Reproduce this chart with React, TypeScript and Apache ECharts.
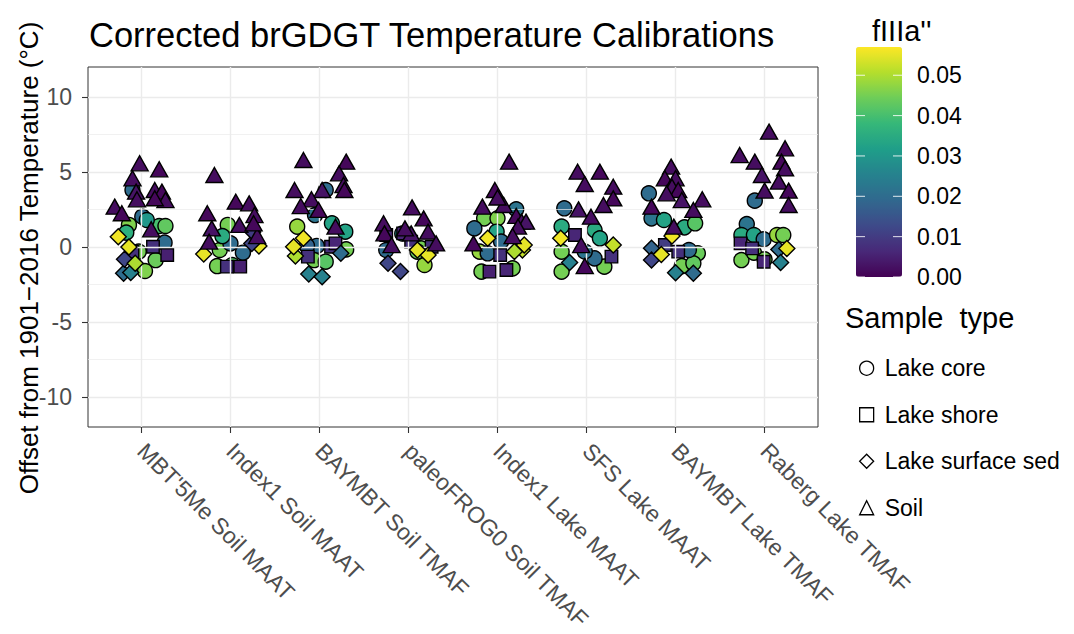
import React, { useEffect, useRef } from "react";
import * as echarts from "echarts";

const categories = [
  "MBT'5Me Soil MAAT",
  "Index1 Soil MAAT",
  "BAYMBT Soil TMAF",
  "paleoFROG0 Soil TMAF",
  "Index1 Lake MAAT",
  "SFS Lake MAAT",
  "BAYMBT Lake TMAF",
  "Raberg Lake TMAF",
];
const sampleTypes = ["Lake core", "Lake shore", "Lake surface sed", "Soil"];
const yTicks = [-10, -5, 0, 5, 10];
const yMinorTicks = [-7.5, -2.5, 2.5, 7.5];
const colorTicks = [0, 0.01, 0.02, 0.03, 0.04, 0.05];
const colorMin = 0;
const colorMax = 0.057;
const viridis = ["#440154", "#482878", "#3E4A89", "#31688E", "#26828E", "#1F9E89", "#35B779", "#6DCD59", "#B4DE2C", "#FDE725"];

// rows: [calibration index, jitter, offset from 1901-2016 temperature (°C), fIIIa'']
const lakeCore = [
  [0, 0.01, 2.02, 0.02], [0, -0.14, 1.47, 0.046], [0, -0.17, 0.96, 0.036], [0, 0.2, 1.4, 0.04], [0, 0.27, 1.4, 0.043],
  [0, 0.26, 0.29, 0.02], [0, -0.03, -0.31, 0.045], [0, 0.16, -0.87, 0.044], [0, 0.04, -1.6, 0.046], [0, -0.1, 3.8, 0.02], [0, 0.06, 1.8, 0.03],
  [1, -0.03, 1.47, 0.045], [1, -0.12, -0.2, 0.045], [1, 0.0, 0.24, 0.02], [1, 0.14, -0.38, 0.02], [1, -0.15, -1.27, 0.045], [1, 0.02, -1.2, 0.042], [1, -0.09, 0.73, 0.035],
  [2, 0.07, 3.8, 0.02], [2, -0.05, 2.13, 0.022], [2, -0.25, 1.36, 0.048], [2, 0.14, 1.58, 0.033], [2, 0.29, 1.02, 0.033],
  [2, -0.03, 0.07, 0.02], [2, -0.14, 0.07, 0.018], [2, 0.3, -0.16, 0.045], [2, -0.06, -0.87, 0.045], [2, 0.07, -0.98, 0.042],
  [3, 0.14, -0.09, 0.045], [3, 0.18, -1.2, 0.048], [3, 0.1, -0.31, 0.044], [3, -0.25, -0.2, 0.02], [3, -0.07, 0.9, 0.03],
  [4, -0.15, 1.91, 0.045], [4, 0.0, 1.91, 0.046], [4, -0.26, 1.24, 0.02], [4, -0.01, 1.02, 0.033], [4, 0.21, 2.51, 0.022],
  [4, -0.2, -0.31, 0.048], [4, -0.18, -1.64, 0.045], [4, 0.17, -1.42, 0.045], [4, 0.04, 0.36, 0.02], [4, -0.11, -0.42, 0.02],
  [5, -0.25, 2.58, 0.02], [5, -0.28, 1.36, 0.035], [5, 0.09, 1.13, 0.035], [5, 0.15, 0.58, 0.033], [5, -0.28, -0.31, 0.045],
  [5, -0.28, -1.64, 0.045], [5, 0.2, -1.31, 0.045], [5, 0.09, -0.76, 0.02], [5, -0.02, -0.3, 0.022],
  [6, -0.3, 3.58, 0.02], [6, -0.27, 1.91, 0.022], [6, -0.13, 1.8, 0.033], [6, 0.1, 1.31, 0.035], [6, 0.22, 1.58, 0.042],
  [6, 0.25, -0.42, 0.044], [6, 0.07, -1.27, 0.045], [6, 0.2, -1.09, 0.043], [6, 0.15, -0.2, 0.02],
  [7, -0.11, 3.09, 0.02], [7, -0.2, 1.53, 0.022], [7, -0.26, 0.8, 0.035], [7, -0.12, 0.8, 0.033], [7, -0.01, 0.51, 0.02],
  [7, 0.14, 0.8, 0.048], [7, 0.21, 0.8, 0.045], [7, -0.26, -0.87, 0.045], [7, -0.12, -0.38, 0.045], [7, 0.0, -0.82, 0.045],
];
const lakeShore = [
  [0, 0.13, 0.02, 0.008], [0, 0.29, -0.53, 0.005], [0, -0.1, -0.31, 0.008],
  [1, 0.11, -1.31, 0.005], [1, -0.04, -1.31, 0.008],
  [2, 0.13, 0.02, 0.008], [2, -0.13, -0.64, 0.008], [2, 0.18, 0.24, 0.006],
  [3, -0.25, 0.8, 0.006], [3, 0.03, 0.36, 0.008], [3, -0.06, 0.91, 0.006], [3, 0.26, 0.02, 0.008],
  [4, 0.03, -0.53, 0.008], [4, -0.09, -1.64, 0.005], [4, 0.1, -1.53, 0.006],
  [5, -0.13, 0.8, 0.006], [5, 0.28, -0.64, 0.008],
  [6, -0.12, 0.13, 0.01], [6, 0.03, -0.31, 0.008],
  [7, -0.27, 0.24, 0.006], [7, -0.14, -0.09, 0.008], [7, -0.01, -0.98, 0.006],
];
const lakeSurfaceSed = [
  [0, -0.26, 0.69, 0.056], [0, -0.2, -1.75, 0.02], [0, -0.12, -1.7, 0.025], [0, -0.19, -0.82, 0.012], [0, -0.07, -1.09, 0.05], [0, -0.14, 0.0, 0.055],
  [1, -0.3, -0.47, 0.055], [1, 0.32, 0.07, 0.055], [1, 0.24, 0.24, 0.012], [1, 0.25, 1.0, 0.01],
  [2, -0.27, -0.6, 0.05], [2, -0.18, 0.58, 0.056], [2, -0.12, -1.8, 0.025], [2, 0.03, -1.98, 0.025], [2, -0.29, 0.02, 0.055], [2, 0.24, -0.42, 0.02],
  [3, -0.23, -1.09, 0.012], [3, -0.09, -1.64, 0.012], [3, 0.22, -0.53, 0.055], [3, 0.1, -0.2, 0.055],
  [4, 0.28, -0.2, 0.052], [4, 0.3, 0.13, 0.055], [4, -0.11, 0.58, 0.056], [4, 0.19, -0.3, 0.05],
  [5, -0.29, 0.58, 0.056], [5, 0.3, 0.13, 0.052], [5, -0.19, -1.04, 0.025],
  [6, -0.27, -0.09, 0.018], [6, -0.27, -0.87, 0.012], [6, -0.04, 0.73, 0.056], [6, -0.16, -0.5, 0.055], [6, 0.0, -1.71, 0.025], [6, 0.2, -1.75, 0.02],
  [7, 0.16, -0.16, 0.02], [7, 0.18, -1.04, 0.025], [7, 0.25, -0.1, 0.055],
];
const soil = [
  [0, -0.02, 5.58, 0.002], [0, 0.2, 5.18, 0.001], [0, -0.1, 4.58, 0.002], [0, -0.06, 3.69, 0.003], [0, 0.15, 3.8, 0.002], [0, 0.23, 3.69, 0.001],
  [0, 0.27, 3.13, 0.002], [0, 0.15, 3.25, 0.001], [0, -0.05, 3.18, 0.002], [0, -0.3, 2.69, 0.002], [0, -0.22, 2.25, 0.001], [0, 0.11, 1.18, 0.002],
  [1, -0.18, 4.8, 0.002], [1, 0.06, 3.02, 0.001], [1, 0.21, 2.91, 0.002], [1, 0.27, 2.13, 0.002], [1, -0.26, 2.25, 0.001],
  [1, 0.1, 1.47, 0.002], [1, -0.21, 1.24, 0.003], [1, 0.3, 0.73, 0.002], [1, -0.24, 0.36, 0.002], [1, 0.26, 1.58, 0.001],
  [2, -0.18, 5.8, 0.002], [2, 0.3, 5.69, 0.001], [2, 0.22, 4.91, 0.002], [2, 0.27, 4.13, 0.002], [2, 0.28, 3.8, 0.001], [2, -0.28, 3.8, 0.002],
  [2, 0.03, 3.8, 0.003], [2, -0.09, 3.18, 0.002], [2, -0.21, 2.73, 0.002], [2, -0.01, 2.47, 0.001], [2, 0.18, 1.36, 0.002],
  [3, 0.04, 2.64, 0.002], [3, 0.17, 1.91, 0.001], [3, -0.28, 1.58, 0.002], [3, 0.22, 1.02, 0.002], [3, -0.27, 0.91, 0.001],
  [3, -0.19, 0.13, 0.002], [3, 0.03, 0.91, 0.003], [3, 0.31, 0.24, 0.002], [3, -0.04, 1.24, 0.002],
  [4, 0.13, 5.69, 0.002], [4, -0.03, 3.8, 0.001], [4, -0.17, 2.69, 0.002], [4, 0.07, 2.8, 0.002], [4, 0.21, 2.07, 0.001], [4, 0.27, 1.69, 0.002],
  [4, 0.32, 1.69, 0.003], [4, 0.23, 1.36, 0.002], [4, 0.17, 0.73, 0.002], [4, -0.27, 0.24, 0.001], [4, 0.0, 3.3, 0.002],
  [5, -0.1, 5.02, 0.002], [5, 0.15, 5.02, 0.001], [5, -0.02, 4.2, 0.002], [5, 0.3, 4.02, 0.002], [5, 0.3, 3.24, 0.001],
  [5, 0.19, 2.8, 0.002], [5, -0.09, 2.51, 0.003], [5, 0.05, 2.02, 0.002], [5, -0.06, 0.13, 0.002], [5, -0.02, -1.27, 0.001],
  [6, -0.05, 5.36, 0.002], [6, -0.12, 4.58, 0.001], [6, 0.0, 4.58, 0.002], [6, -0.04, 4.02, 0.002], [6, 0.03, 3.8, 0.001], [6, -0.1, 3.58, 0.002],
  [6, 0.07, 3.13, 0.003], [6, 0.3, 3.18, 0.002], [6, 0.2, 2.47, 0.002], [6, -0.27, 2.69, 0.001], [6, -0.02, 1.36, 0.002],
  [7, 0.05, 7.69, 0.002], [7, 0.23, 6.58, 0.001], [7, -0.28, 6.13, 0.002], [7, -0.11, 5.69, 0.002], [7, 0.19, 5.69, 0.001], [7, 0.23, 5.24, 0.002],
  [7, -0.03, 4.8, 0.003], [7, 0.16, 4.36, 0.002], [7, 0.0, 3.76, 0.002], [7, 0.27, 3.76, 0.001], [7, 0.27, 2.8, 0.002],
];

const FONT = "Liberation Sans, Arial, Helvetica, sans-serif";

const GRID = { left: 88, right: 256, top: 67, bottom: 207 };
const BAR = { left: 856, top: 47, width: 46, height: 230 };

function toPoints(rows: number[][]) {
  return rows.map((r) => [r[0] + r[1], r[2], r[3]]);
}

export default function App() {
  const ref = useRef<HTMLDivElement>(null);

  useEffect(() => {
    if (!ref.current) return;
    const chart = echarts.init(ref.current, undefined, { renderer: "svg" });

    const catIdx = categories.map((_, i) => i);
    const shapes = ["circle", "rect", "diamond", "triangle"];
    const sizes: any[] = [15, 12.5, 16, [17, 15]];
    const groups = [lakeCore, lakeShore, lakeSurfaceSed, soil];

    const series: any[] = groups.map((rows, i) => ({
      type: "scatter",
      name: sampleTypes[i],
      symbol: shapes[i],
      symbolSize: sizes[i],
      data: toPoints(rows),
      itemStyle: { borderColor: "#000", borderWidth: 1.4, opacity: 1 },
      emphasis: { disabled: true },
      z: 3 + i,
    }));

    const majorLine = { color: "#EBEBEB", width: 1.4, type: "solid" };
    const minorLine = { color: "#EBEBEB", width: 0.7, type: "solid" };
    series.push({
      type: "scatter",
      name: "grid-lines",
      data: [],
      silent: true,
      z: 1,
      markLine: {
        silent: true,
        symbol: "none",
        animation: false,
        label: { show: false },
        emphasis: { disabled: true },
        data: [
          ...yMinorTicks.map((v) => ({ yAxis: v, lineStyle: minorLine })),
          ...yTicks.map((v) => ({ yAxis: v, lineStyle: majorLine })),
          ...catIdx.map((v) => ({ xAxis: v, lineStyle: majorLine })),
        ],
      },
    });

    const barTickGraphics: any[] = [];
    colorTicks.forEach((v) => {
      const y = BAR.top + BAR.height * (1 - (v - colorMin) / (colorMax - colorMin));
      barTickGraphics.push({
        type: "line",
        shape: { x1: BAR.left, y1: y, x2: BAR.left + 9, y2: y },
        style: { stroke: "rgba(255,255,255,0.85)", lineWidth: 1 },
        z: 100,
      });
      barTickGraphics.push({
        type: "line",
        shape: { x1: BAR.left + BAR.width - 9, y1: y, x2: BAR.left + BAR.width, y2: y },
        style: { stroke: "rgba(255,255,255,0.85)", lineWidth: 1 },
        z: 100,
      });
      barTickGraphics.push({
        type: "text",
        x: BAR.left + BAR.width + 15,
        y: y,
        style: {
          text: v.toFixed(2),
          font: `23px ${FONT}`,
          fill: "#000",
          textVerticalAlign: "middle",
          verticalAlign: "middle",
        },
        z: 100,
      });
    });

    chart.setOption({
      animation: false,
      backgroundColor: "#fff",
      title: {
        text: "Corrected brGDGT Temperature Calibrations",
        left: 89,
        top: 17,
        padding: 0,
        textStyle: { fontFamily: FONT, fontSize: 34.5, fontWeight: "normal", color: "#000" },
      },
      grid: {
        left: GRID.left,
        right: GRID.right,
        top: GRID.top,
        bottom: GRID.bottom,
        outerBoundsMode: "none",
        containLabel: false,
        show: true,
        borderColor: "#333333",
        borderWidth: 1,
        backgroundColor: "#fff",
      },
      xAxis: {
        type: "value",
        min: -0.6,
        max: categories.length - 1 + 0.6,
        axisLine: { show: false, onZero: false },
        axisTick: {
          show: true,
          customValues: catIdx,
          length: 6,
          lineStyle: { color: "#333333", width: 1.1 },
        },
        axisLabel: {
          show: true,
          customValues: catIdx,
          rotate: -45,
          margin: 20,
          verticalAlign: "middle",
          padding: [13, 0, 0, 0],
          fontFamily: FONT,
          fontSize: 23,
          color: "#4D4D4D",
          formatter: (v: number) => categories[Math.round(v)] ?? "",
        },
        splitLine: { show: false },
      },
      yAxis: {
        type: "value",
        min: -12,
        max: 12,
        axisLine: { show: false, onZero: false },
        axisTick: {
          show: true,
          customValues: yTicks,
          length: 6,
          lineStyle: { color: "#333333", width: 1.1 },
        },
        axisLabel: {
          show: true,
          customValues: yTicks,
          margin: 16,
          fontFamily: FONT,
          fontSize: 23,
          color: "#4D4D4D",
        },
        splitLine: { show: false },
      },
      visualMap: {
        type: "continuous",
        min: colorMin,
        max: colorMax,
        dimension: 2,
        seriesIndex: [0, 1, 2, 3],
        left: BAR.left,
        top: BAR.top,
        itemWidth: BAR.width,
        itemHeight: BAR.height,
        padding: 0,
        calculable: false,
        hoverLink: false,
        text: null,
        showLabel: false,
        inRange: { color: viridis },
      },
      legend: {
        orient: "vertical",
        left: 859,
        top: 356,
        padding: 0,
        itemWidth: 14,
        itemHeight: 14,
        itemGap: 22,
        selectedMode: false,
        textStyle: { fontFamily: FONT, fontSize: 23, color: "#000", lineHeight: 24.5, padding: [0, 0, 0, 6] },
        data: sampleTypes.map((name, i) => ({
          name,
          icon: shapes[i],
          itemStyle: { color: "rgba(0,0,0,0)", borderColor: "#000", borderWidth: 1.3 },
        })),
      },
      graphic: [
        {
          type: "text",
          x: 29,
          y: 258,
          rotation: Math.PI / 2,
          style: {
            text: "Offset from 1901\u22122016 Temperature (\u00B0C)",
            font: `26px ${FONT}`,
            fill: "#000",
            align: "center",
            textAlign: "center",
            verticalAlign: "middle",
            textVerticalAlign: "middle",
          },
        },
        {
          type: "text",
          x: 872,
          y: 31,
          style: {
            text: "fIIIa''",
            font: `29px ${FONT}`,
            fill: "#000",
            verticalAlign: "middle",
            textVerticalAlign: "middle",
          },
        },
        {
          type: "text",
          x: 845,
          y: 318,
          style: {
            text: "Sample  type",
            font: `29px ${FONT}`,
            fill: "#000",
            verticalAlign: "middle",
            textVerticalAlign: "middle",
          },
        },
        ...barTickGraphics,
      ],
      series,
    });

    return () => {
      chart.dispose();
    };
  }, []);

  return (
    <div
      ref={ref}
      style={{ position: "fixed", left: 0, top: 0, width: 1074, height: 634, background: "#fff" }}
    />
  );
}
